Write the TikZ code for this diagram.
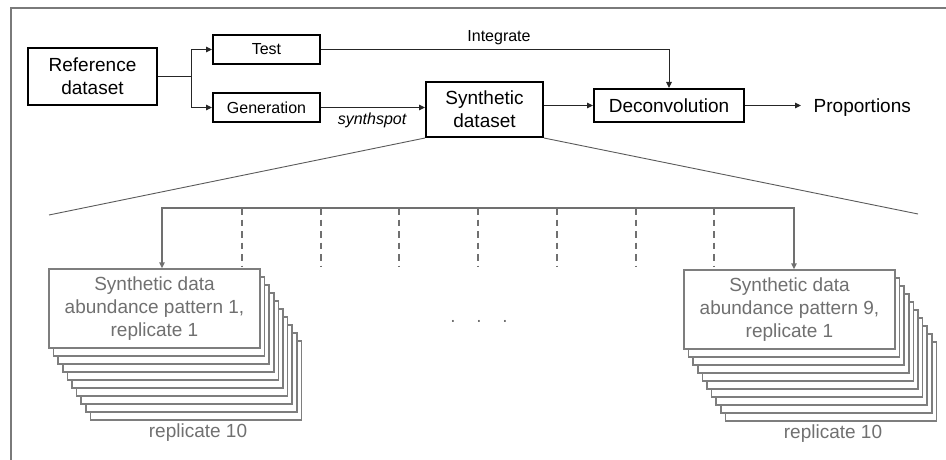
\documentclass[tikz,border=0pt]{standalone}
\usepackage{fontspec}
\setmainfont{Liberation Sans}
\usetikzlibrary{arrows.meta,calc}
\definecolor{lg}{HTML}{707070}
\definecolor{frm}{HTML}{7A7A7A}
\definecolor{fanc}{HTML}{5A5A5A}
\tikzset{
  bigtext/.style={font=\fontsize{19}{22.7}\selectfont},
  midtext/.style={font=\fontsize{16}{19}\selectfont},
  mainbox/.style={draw=black, line width=2pt, inner sep=0pt, align=center, bigtext},
  smallbox/.style={draw=black, line width=2pt, inner sep=0pt, align=center, midtext},
  conn/.style={draw=black!85, line width=1pt},
  tip/.tip={Triangle[length=6pt,width=5.5pt]},
  fan/.style={draw=fanc, line width=0.9pt},
  gline/.style={draw=lg, line width=1.6pt},
  dashline/.style={draw=lg, line width=1.6pt, dash pattern=on 6.5pt off 5pt},
  stackbox/.style={draw=lg!90, line width=1.5pt, fill=white, minimum width=211pt, minimum height=79pt, inner sep=0pt, align=center, text=lg, bigtext},
  graylabel/.style={text=lg, bigtext, inner sep=0pt}
}
\begin{document}
\begin{tikzpicture}[x=1pt,y=-1pt]
\useasboundingbox (0,0) rectangle (946,460);
\draw[frm, line width=1.5pt] (11,462) -- (11,8) -- (948,8);

% top row
\node[mainbox, minimum width=129pt, minimum height=57pt] (ref) at (92.5,76.5) {Reference\\dataset};
\node[smallbox, minimum width=107pt, minimum height=29pt] (test) at (266.5,49.5) {Test};
\node[smallbox, minimum width=107pt, minimum height=29pt] (gen) at (266.5,107.5) {Generation};
\node[mainbox, minimum width=117pt, minimum height=55pt] (syn) at (484.5,109.5) {Synthetic\\dataset};
\node[mainbox, minimum width=150pt, minimum height=33pt] (dec) at (669,105.5) {Deconvolution};
\node[bigtext, anchor=base west, inner xsep=12.5pt, inner ysep=0pt] (prop) at (801,113) {Proportions};

\coordinate (split) at (191,76.5);
\draw[conn] (ref.east) -- (split);
\draw[conn,-tip] (split) |- (test.west);
\draw[conn,-tip] (split) |- (gen.west);
\draw[conn,-tip] (gen.east) -- (gen.east -| syn.west);
\node[midtext, font=\fontsize{16}{19}\selectfont\itshape] (ss) at (372,120) {synthspot};
\draw[conn,-tip] (syn.east |- dec.west) -- (dec.west);
\draw[conn,-tip] (test.east) -| (dec.north);
\node[midtext, anchor=base] (integ) at (499,41.7) {Integrate};
\draw[conn,-tip] (dec.east) -- (dec.east -| prop.west);

% fan lines
\coordinate (fanl) at (49,215);
\coordinate (fanr) at (918,214);
\draw[fan] (syn.south west) -- (fanl);
\draw[fan] (syn.south east) -- (fanr);

% stacks
\foreach \i in {9,...,1} {
  \node[stackbox] (L\i) at ({154.5+4.6*\i},{308.5+8*\i}) {};
  \node[stackbox] (R\i) at ({789.5+4.6*\i},{309.5+8*\i}) {};
}
\node[stackbox] (L0) at (154.5,308.5) {Synthetic data\\abundance pattern 1,\\replicate 1};
\node[stackbox] (R0) at (789.5,309.5) {Synthetic data\\abundance pattern 9,\\replicate 1};

\node[graylabel] (repl) at (198,433) {replicate 10};
\node[graylabel] (repr) at (833,434) {replicate 10};

% bracket
\coordinate (bl) at (162,208);
\coordinate (br) at (794,208);
\draw[gline,{tip}-{tip}] (bl |- L0.north) -- (bl) -- (br) -- (br |- R0.north);

\foreach \x [count=\k] in {242,321,399,478,557,636,714} {
  \coordinate (dt\k) at (\x,208);
  \coordinate (db\k) at (\x,266);
  \draw[dashline] (dt\k) -- (db\k);
}

\node[graylabel, anchor=base] (dots) at (479,322) {.\hspace{20.7pt}.\hspace{20.7pt}.};
\end{tikzpicture}
\end{document}
